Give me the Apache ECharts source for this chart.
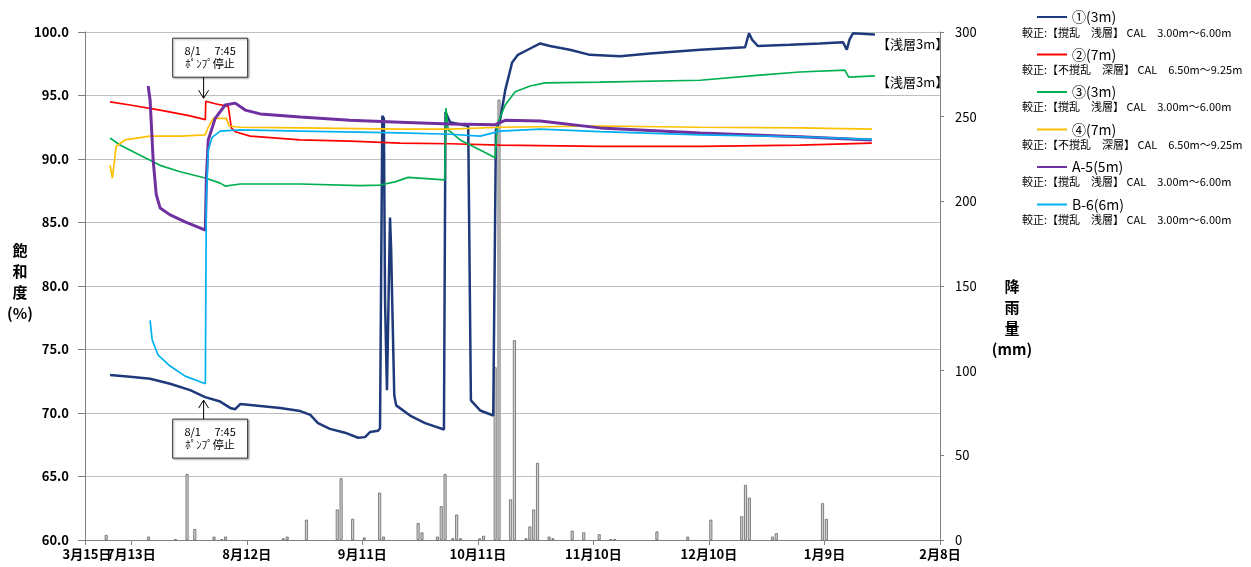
<!DOCTYPE html>
<html><head><meta charset="utf-8">
<script src="https://cdn.jsdelivr.net/npm/echarts@6/dist/echarts.min.js"></script>
<style>html,body{margin:0;padding:0;background:#fff;}#c{width:1251px;height:567px;}</style>
</head><body><div id="c"></div>
<script>
// x values are days counted from 7/13
const xTickDays = [-12, 0, 30, 60, 90, 120, 150, 180, 210];
const xTickLabels = ['3月15日', '7月13日', '8月12日', '9月11日', '10月11日', '11月10日', '12月10日', '1月9日', '2月8日'];
const yLeftTicks = [60, 65, 70, 75, 80, 85, 90, 95, 100];
const yRightTicks = [0, 50, 100, 150, 200, 250, 300];

const seriesNames = ['①(3m)', '②(7m)', '③(3m)', '④(7m)', 'A-5(5m)', 'B-6(6m)'];
const calNotes = [
  '較正:【撹乱　浅層】 CAL　3.00m～6.00m',
  '較正:【不撹乱　深層】 CAL　6.50m～9.25m',
  '較正:【撹乱　浅層】 CAL　3.00m～6.00m',
  '較正:【不撹乱　深層】 CAL　6.50m～9.25m',
  '較正:【撹乱　浅層】 CAL　3.00m～6.00m',
  '較正:【撹乱　浅層】 CAL　3.00m～6.00m'
];

const s1 = [[-5.5,73.0],[-0.3,72.85],[4.9,72.7],[10.1,72.3],[15.3,71.8],[19.2,71.25],[23.1,70.9],[25.7,70.4],[27.0,70.3],[28.3,70.7],[33.5,70.55],[38.7,70.4],[43.9,70.15],[46.5,69.85],[48.5,69.2],[51.6,68.75],[55.5,68.45],[58.9,68.05],[60.7,68.1],[62.0,68.5],[64.1,68.6],[64.6,68.8],[65.2,93.4],[65.6,93.2],[65.9,78.9],[66.4,71.8],[67.0,82.0],[67.2,85.4],[67.5,82.8],[67.7,79.7],[68.3,71.4],[68.8,70.6],[72.4,69.8],[76.3,69.2],[81.2,68.7],[81.6,93.7],[82.8,92.9],[87.5,92.6],[88.2,71.0],[90.6,70.2],[94.0,69.8],[94.5,69.7],[94.7,92.3],[95.8,93.1],[97.1,95.4],[98.9,97.6],[100.4,98.2],[103.6,98.7],[106.2,99.1],[108.7,98.9],[113.9,98.6],[119.1,98.2],[126.9,98.1],[134.7,98.3],[147.7,98.6],[159.4,98.8],[160.4,99.9],[161.2,99.4],[162.7,98.9],[171.0,99.0],[178.8,99.1],[184.8,99.2],[185.8,98.6],[186.5,99.4],[187.4,99.9],[193.1,99.8]];
const s2 = [[-5.5,94.5],[-0.3,94.25],[7.5,93.85],[15.3,93.4],[19.25,93.1],[19.35,94.55],[21.8,94.35],[25.2,94.15],[26.0,92.45],[27.0,92.15],[30.9,91.8],[43.9,91.5],[56.8,91.4],[69.8,91.25],[82.8,91.2],[95.8,91.1],[121.7,91.0],[147.7,91.0],[173.6,91.1],[192.3,91.25]];
const s3 = [[-5.5,91.65],[-2.9,91.1],[2.3,90.3],[7.5,89.5],[12.7,89.0],[19.2,88.5],[23.1,88.1],[24.4,87.87],[28.3,88.03],[43.9,88.03],[59.4,87.9],[64.6,87.95],[68.5,88.2],[71.9,88.55],[81.4,88.35],[81.7,94.0],[82.3,92.3],[85.4,91.5],[90.6,90.7],[94.5,90.1],[95.0,92.7],[97.1,94.25],[99.7,95.3],[103.6,95.75],[107.4,96.0],[121.7,96.05],[147.7,96.2],[163.2,96.6],[173.6,96.85],[185.3,97.0],[186.3,96.45],[193.1,96.55]];
const s4 = [[-5.5,89.5],[-4.9,88.5],[-3.9,91.0],[-1.6,91.5],[4.9,91.8],[12.7,91.8],[19.2,91.9],[20.0,92.5],[21.3,93.2],[24.7,93.2],[25.4,92.6],[28.3,92.5],[43.9,92.45],[69.8,92.35],[82.8,92.35],[95.8,92.5],[121.7,92.6],[147.7,92.5],[173.6,92.45],[192.3,92.35]];
const s5 = [[4.4,95.75],[4.9,94.65],[5.7,89.9],[6.5,87.2],[7.5,86.15],[10.1,85.6],[14.0,85.05],[19.25,84.4],[19.5,88.4],[20.0,91.5],[21.8,93.2],[24.4,94.25],[27.0,94.4],[29.6,93.85],[33.5,93.55],[43.9,93.3],[56.8,93.05],[69.8,92.9],[82.8,92.75],[94.5,92.7],[97.1,93.05],[106.2,93.0],[121.7,92.45],[147.7,92.05],[173.6,91.75],[192.3,91.5]];
const s6 = [[4.9,77.3],[5.45,75.75],[7.0,74.55],[10.1,73.7],[14.0,72.9],[19.25,72.3],[19.5,86.8],[20.0,90.7],[21.0,91.7],[23.1,92.2],[28.3,92.3],[43.9,92.2],[69.8,92.05],[82.8,91.95],[90.6,91.8],[95.8,92.2],[106.2,92.35],[121.7,92.15],[147.7,91.9],[173.6,91.75],[192.3,91.55]];

const rainDays = [-7,4,11,14,16,21,23,24,39,40,45,53,54,57,60,64,65,74,75,79,80,81,83,84,85,90,91,94,95,98,99,102,103,104,105,108,109,114,117,121,124,125,136,144,150,158,159,160,166,167,179,180];
const rainMm = [3,2,0.5,39,6.5,2,0.5,2,1,2,12,18,36.5,12.5,1.5,28,2,10,4.5,2,20,39,1,15,1,1,2.5,102,260,24,118,1,8,18,45.5,2,1,5.5,4.5,3.4,0.5,0.5,5,2,12,14,32.5,25,2,4,21.7,12.4];

const pumpStopDay = 19.32; // 8/1 7:45
const pumpText = '8/1　 7:45\nﾎﾟﾝﾌﾟ停止';
const endTag = '【浅層3m】';
const leftAxisName = '飽\n和\n度\n(%)';
const rightAxisName = '降\n雨\n量\n(mm)';

const colors = ['#1f3a7a', '#ff0000', '#00b050', '#ffc000', '#7030a0', '#00b0f0'];
const widths = [2.5, 1.7, 1.7, 1.7, 3, 1.7];
const lineData = [s1, s2, s3, s4, s5, s6];
const FONT = "'Noto Sans CJK JP', 'Noto Sans', sans-serif";
const X_MIN = xTickDays[0];
const axisLabelDays = xTickDays.slice(1); // the min label is drawn separately so both first labels show

const chart = echarts.init(document.getElementById('c'));

const lineSeries = lineData.map((d, i) => {
  const s = {
    name: seriesNames[i], type: 'line', data: d, xAxisIndex: 0, yAxisIndex: 0,
    symbol: 'none', showSymbol: false, smooth: false,
    lineStyle: { color: colors[i], width: widths[i] }, itemStyle: { color: colors[i] },
    z: 3
  };
  if (i === 0 || i === 2) {
    s.endLabel = { show: true, formatter: endTag, color: '#000', fontSize: 13, fontFamily: FONT, distance: 2, offset: [0, i === 0 ? 10 : 6] };
  }
  return s;
});

const xLabelStyle = { color: '#000', fontSize: 13, fontWeight: 'bold' };

const option = {
  animation: false,
  textStyle: { fontFamily: FONT },
  grid: { left: 85, right: 311, top: 32, bottom: 27, containLabel: false },
  legend: {
    data: seriesNames, orient: 'vertical', left: 1031, top: 5,
    itemWidth: 30, itemHeight: 14, itemGap: 23.5,
    itemStyle: { color: 'rgba(0,0,0,0)', borderWidth: 0, opacity: 0 },
    textStyle: { fontSize: 14, color: '#000', fontFamily: FONT }
  },
  xAxis: {
    type: 'value', min: X_MIN, max: xTickDays[xTickDays.length - 1],
    axisLine: { show: true, onZero: false, lineStyle: { color: '#808080', width: 1 } },
    axisTick: { show: true, customValues: xTickDays, length: 5, lineStyle: { color: '#808080' } },
    axisLabel: Object.assign({
      customValues: axisLabelDays, margin: 8, hideOverlap: false,
      formatter: v => { const k = xTickDays.indexOf(Math.round(v)); return k >= 0 ? xTickLabels[k] : ''; }
    }, xLabelStyle),
    splitLine: { show: false }
  },
  yAxis: [
    {
      type: 'value', min: 60, max: 100, interval: 5, position: 'left',
      axisLine: { show: true, onZero: false, lineStyle: { color: '#808080' } },
      axisTick: { show: true, length: 7, lineStyle: { color: '#808080' } },
      axisLabel: { margin: 16, color: '#000', fontSize: 13, fontWeight: 'bold', formatter: v => v.toFixed(1) },
      splitLine: { show: true, lineStyle: { color: '#bfbfbf', width: 1 } }
    },
    {
      type: 'value', min: 0, max: 300, interval: 50, position: 'right',
      axisLine: { show: true, onZero: false, lineStyle: { color: '#808080' } },
      axisTick: { show: true, length: 4, lineStyle: { color: '#808080' } },
      axisLabel: { margin: 15, color: '#000', fontSize: 13, align: 'left' },
      splitLine: { show: false }
    }
  ],
  series: [
    {
      name: '降雨量', type: 'bar', xAxisIndex: 0, yAxisIndex: 1, barWidth: 3,
      data: rainDays.map((d, i) => [d + 0.5, rainMm[i]]),
      itemStyle: { color: '#d0d0d0', borderColor: '#666666', borderWidth: 0.8 },
      z: 2
    }
  ].concat(lineSeries)
};
chart.setOption(option);

// annotations anchored to data points
const upPt = chart.convertToPixel({ xAxisIndex: 0, yAxisIndex: 0 }, [pumpStopDay, 94.55]);
const dnPt = chart.convertToPixel({ xAxisIndex: 0, yAxisIndex: 0 }, [pumpStopDay, 71.25]);
const minPt = chart.convertToPixel({ xAxisIndex: 0, yAxisIndex: 0 }, [X_MIN, 60]);
const ax = upPt[0] - 2;
const upTip = upPt[1] - 3, dnTip = dnPt[1] + 3;
const boxW = 75, boxH = 39;
function callout(id, tipY, dir) {
  const boxTop = dir === 1 ? tipY - 21 - boxH : tipY + 19;
  const boxEdge = dir === 1 ? boxTop + boxH : boxTop;
  return [
    { type: 'rect', id: id + 'b', z: 50, shape: { x: ax - 31, y: boxTop, width: boxW, height: boxH },
      style: { fill: '#fff', stroke: '#3a3a3a', lineWidth: 1, shadowBlur: 2, shadowOffsetX: 1, shadowOffsetY: 1, shadowColor: 'rgba(0,0,0,0.35)' } },
    { type: 'text', id: id + 't', z: 51, x: ax - 31 + boxW / 2, y: boxTop + boxH / 2,
      style: { text: pumpText, fontSize: 11, lineHeight: 13, fill: '#000', align: 'center', verticalAlign: 'middle', fontFamily: FONT } },
    { type: 'line', id: id + 'l', z: 50, shape: { x1: ax, y1: boxEdge, x2: ax, y2: tipY }, style: { stroke: '#000', lineWidth: 1 } },
    { type: 'polyline', id: id + 'h', z: 50, shape: { points: [[ax - 5, tipY - 8 * dir], [ax, tipY], [ax + 5, tipY - 8 * dir]] }, style: { stroke: '#000', lineWidth: 1, fill: null } }
  ];
}
const g = [].concat(callout('up', upTip, 1), callout('dn', dnTip, -1));
g.push({ type: 'text', id: 'xmin', x: minPt[0] + 2, y: minPt[1] + 8, z: 0,
  style: { text: xTickLabels[0], fontSize: xLabelStyle.fontSize, fontWeight: 'bold', fill: '#000', align: 'center', verticalAlign: 'top', fontFamily: FONT } });
calNotes.forEach((t, i) => {
  g.push({ type: 'text', id: 'note' + i, left: 1022, top: 27 + 37.4 * i,
    style: { text: t, fontSize: 11, fill: '#000', fontFamily: FONT } });
});
g.push({ type: 'text', id: 'yl', x: 20, y: 240, style: { text: leftAxisName, fontSize: 15, fontWeight: 'bold', lineHeight: 21, fill: '#000', align: 'center', verticalAlign: 'top', fontFamily: FONT } });
g.push({ type: 'text', id: 'yr', x: 1012, y: 276, style: { text: rightAxisName, fontSize: 15, fontWeight: 'bold', lineHeight: 21, fill: '#000', align: 'center', verticalAlign: 'top', fontFamily: FONT } });
chart.setOption({ graphic: g });
</script>
</body></html>
